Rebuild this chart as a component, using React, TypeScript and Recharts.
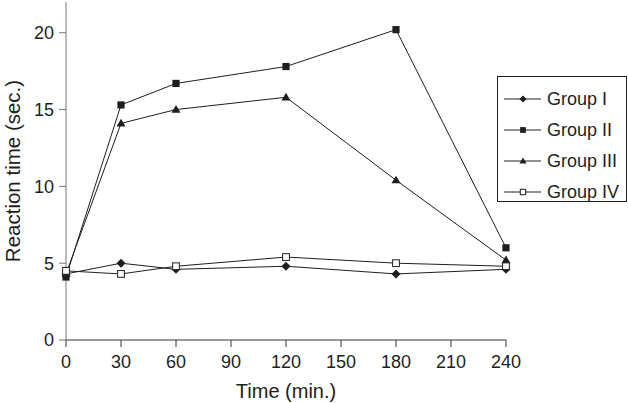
import React from "react";
import {
  LineChart,
  Line,
  XAxis,
  YAxis,
  Legend,
} from "recharts";

const times = [0, 30, 60, 120, 180, 240];
const groupI = [4.3, 5.0, 4.6, 4.8, 4.3, 4.6];
const groupII = [4.1, 15.3, 16.7, 17.8, 20.2, 6.0];
const groupIII = [4.3, 14.1, 15.0, 15.8, 10.4, 5.2];
const groupIV = [4.5, 4.3, 4.8, 5.4, 5.0, 4.8];

const xTicks = [0, 30, 60, 90, 120, 150, 180, 210, 240];
const yTicks = [0, 5, 10, 15, 20];

const seriesNames = ["Group I", "Group II", "Group III", "Group IV"];
const seriesKeys = ["g1", "g2", "g3", "g4"];
const markers = ["diamond", "square", "triangle", "open"];

const data = times.map((t, i) => ({
  t,
  g1: groupI[i],
  g2: groupII[i],
  g3: groupIII[i],
  g4: groupIV[i],
}));

const ink = "#1e1e1e";
const font = "'Liberation Sans', Arial, sans-serif";

function marker(kind: string, cx: number, cy: number, s: number) {
  if (kind === "diamond") {
    return (
      <polygon
        points={`${cx},${cy - s} ${cx + s},${cy} ${cx},${cy + s} ${cx - s},${cy}`}
        fill={ink}
      />
    );
  }
  if (kind === "square") {
    return (
      <rect x={cx - s * 0.8} y={cy - s * 0.8} width={s * 1.6} height={s * 1.6} fill={ink} />
    );
  }
  if (kind === "triangle") {
    return (
      <polygon
        points={`${cx},${cy - s} ${cx + s},${cy + s * 0.7} ${cx - s},${cy + s * 0.7}`}
        fill={ink}
      />
    );
  }
  return (
    <rect
      x={cx - s * 0.75}
      y={cy - s * 0.75}
      width={s * 1.5}
      height={s * 1.5}
      fill="#fff"
      stroke={ink}
      strokeWidth={1}
    />
  );
}

const makeDot = (kind: string) => (props: any) => {
  const { cx, cy, index } = props;
  return <g key={`${kind}-${index}`}>{marker(kind, cx, cy, 4.5)}</g>;
};

function LegendBox() {
  return (
    <div
      style={{
        border: `1px solid ${ink}`,
        width: 130,
        height: 126,
        boxSizing: "border-box",
        paddingTop: 6,
        fontFamily: font,
        fontSize: 18,
        color: ink,
      }}
    >
      {seriesNames.map((name, i) => (
        <div
          key={name}
          style={{ display: "flex", alignItems: "center", height: 31 }}
        >
          <svg width={49} height={14} style={{ flex: "none" }}>
            <line x1={6} x2={43} y1={7} y2={7} stroke={ink} strokeWidth={1} />
            {marker(markers[i], 25, 7, 3.6)}
          </svg>
          <span style={{ lineHeight: "18px" }}>{name}</span>
        </div>
      ))}
    </div>
  );
}

export default function App() {
  return (
    <div style={{ position: "absolute", left: 0, top: 0, background: "#fff" }}>
      <LineChart
        width={628}
        height={403}
        data={data}
        margin={{ top: 2, right: 122, bottom: 0, left: 0 }}
      >
        <XAxis
          dataKey="t"
          type="number"
          domain={[0, 240]}
          ticks={xTicks}
          height={63}
          tickSize={7}
          tickMargin={8}
          stroke="#333"
          tick={{ fill: ink, fontSize: 18, fontFamily: font }}
          label={{
            content: ({ viewBox }: any) => (
              <text
                x={viewBox.x + viewBox.width / 2}
                y={viewBox.y + 58}
                textAnchor="middle"
                fill={ink}
                fontSize={20}
                fontFamily={font}
              >
                Time (min.)
              </text>
            ),
          }}
        />
        <YAxis
          type="number"
          domain={[0, 22]}
          ticks={yTicks}
          width={66}
          tickSize={7}
          tickMargin={5}
          stroke="#777"
          tick={{ fill: ink, fontSize: 18, fontFamily: font }}
          label={{
            content: ({ viewBox }: any) => {
              const x = viewBox.x + 12;
              const y = viewBox.y + viewBox.height / 2;
              return (
                <text
                  x={x}
                  y={y}
                  transform={`rotate(-90 ${x} ${y})`}
                  textAnchor="middle"
                  dominantBaseline="central"
                  fill={ink}
                  fontSize={20.5}
                  fontFamily={font}
                >
                  Reaction time (sec.)
                </text>
              );
            },
          }}
        />
        <Legend
          layout="horizontal"
          verticalAlign="middle"
          align="center"
          width={130}
          wrapperStyle={{ left: 497, top: 76, width: 130, height: 126 }}
          content={() => <LegendBox />}
        />
        {seriesKeys.map((key, i) => (
          <Line
            key={key}
            dataKey={key}
            name={seriesNames[i]}
            type="linear"
            stroke={ink}
            strokeWidth={1}
            dot={makeDot(markers[i])}
            activeDot={false}
            isAnimationActive={false}
          />
        ))}
      </LineChart>
    </div>
  );
}
